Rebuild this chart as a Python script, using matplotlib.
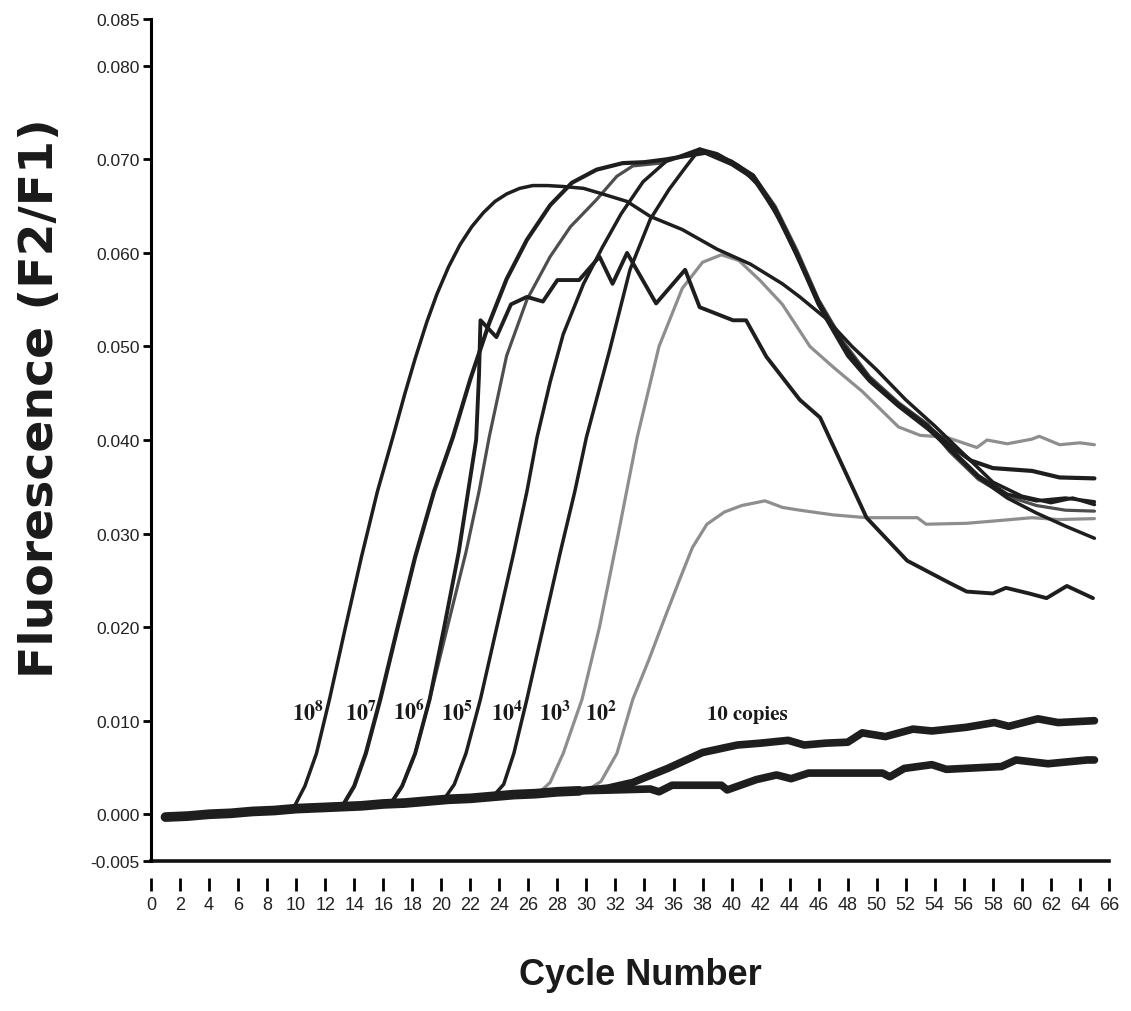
import numpy as np
import matplotlib
matplotlib.use('Agg')
import matplotlib.pyplot as plt
from matplotlib import font_manager as fm

# shared baseline before each curve takes off
base_cycle = [1, 2.5, 4, 5.5, 7, 8.5, 10, 11.5, 13, 14.5, 16, 17.5, 19, 20.5, 22, 23.5, 25, 26.5, 28, 29.5]
base_value = [-0.0003, -0.0002, 0.0000, 0.0001, 0.0003, 0.0004, 0.0006, 0.0007, 0.0008, 0.0009,
              0.0011, 0.0012, 0.0014, 0.0016, 0.0017, 0.0019, 0.0021, 0.0022, 0.0024, 0.0025]

c_1e8 = [9.8, 10.6, 11.4, 12.3, 13.4, 14.5, 15.6, 16.7, 17.5, 18.2, 19.0, 19.7, 20.5, 21.3, 22.1, 22.9,
         23.7, 24.5, 25.4, 26.3, 27.3, 28.4, 29.8, 30.9, 32.8, 34.4, 36.6, 39.0, 41.3, 43.5, 44.7, 46.5,
         48.3, 50.0, 52.0, 54.0, 56.0, 58.0, 60.0, 62.0, 63.5, 65.0]
v_1e8 = [0.0006, 0.0030, 0.0065, 0.0123, 0.0200, 0.0275, 0.0345, 0.0405, 0.0450, 0.0487, 0.0526, 0.0556,
         0.0585, 0.0609, 0.0628, 0.0643, 0.0655, 0.0663, 0.0669, 0.0672, 0.0672, 0.0671, 0.0669, 0.0664,
         0.0655, 0.0639, 0.0625, 0.0604, 0.0588, 0.0567, 0.0553, 0.0530, 0.0500, 0.0475, 0.0443, 0.0415,
         0.0385, 0.0355, 0.0340, 0.0333, 0.0338, 0.0331]

c_1e7 = [13.2, 14.0, 14.8, 15.8, 17.0, 18.2, 19.5, 20.8, 22.0, 23.3, 24.5, 25.9, 27.5, 29.0, 30.7, 32.5,
         34.0, 35.5, 37.0, 38.2, 40.0, 41.5, 43.0, 44.5, 46.0, 47.7, 49.5, 51.5, 53.5, 55.0, 56.5, 58.0,
         60.7, 62.6, 65.0]
v_1e7 = [0.0009, 0.0030, 0.0065, 0.0123, 0.0200, 0.0275, 0.0345, 0.0403, 0.0465, 0.0525, 0.0572, 0.0614,
         0.0651, 0.0675, 0.0689, 0.0696, 0.0697, 0.0700, 0.0704, 0.0707, 0.0695, 0.0680, 0.0645, 0.0598,
         0.0545, 0.0500, 0.0465, 0.0438, 0.0415, 0.0395, 0.0378, 0.0370, 0.0367, 0.0360, 0.0359]

c_1e6 = [16.5, 17.3, 18.2, 19.2, 20.5, 21.7, 22.6, 23.3, 24.5, 25.9, 27.5, 28.9, 30.7, 32.1, 33.2, 35.1,
         36.6, 38.0, 40.0, 41.5, 43.0, 44.5, 46.0, 47.7, 49.5, 51.5, 53.5, 55.0, 57.0, 59.0, 61.0, 63.0, 65.0]
v_1e6 = [0.0011, 0.0030, 0.0065, 0.0123, 0.0205, 0.0280, 0.0345, 0.0403, 0.0490, 0.0550, 0.0596, 0.0628,
         0.0657, 0.0682, 0.0693, 0.0696, 0.0703, 0.0708, 0.0697, 0.0683, 0.0650, 0.0603, 0.0550, 0.0505,
         0.0468, 0.0440, 0.0417, 0.0388, 0.0358, 0.0340, 0.0330, 0.0325, 0.0324]

# noisy replicate that takes off with 10^6
c_rep = [16.5, 17.3, 18.2, 19.2, 20.2, 21.2, 21.8, 22.4, 22.6, 22.7, 23.8, 24.8, 25.9, 27.0, 28.0, 29.5,
         30.9, 31.8, 32.8, 34.8, 36.8, 37.8, 40.1, 41.0, 42.4, 44.7, 46.1, 49.3, 52.1, 54.8, 56.2, 58.0,
         58.9, 60.5, 61.7, 63.1, 64.9]
v_rep = [0.0011, 0.0030, 0.0065, 0.0123, 0.0200, 0.0280, 0.0340, 0.0400, 0.0470, 0.0528, 0.0510, 0.0545,
         0.0553, 0.0548, 0.0571, 0.0571, 0.0596, 0.0567, 0.0600, 0.0546, 0.0582, 0.0542, 0.0528, 0.0528,
         0.0489, 0.0443, 0.0424, 0.0317, 0.0271, 0.0249, 0.0238, 0.0236, 0.0242, 0.0236, 0.0231, 0.0244,
         0.0231]

c_1e5 = [20.1, 20.9, 21.7, 22.7, 23.9, 25.0, 25.9, 26.6, 27.5, 28.4, 29.8, 31.1, 32.4, 33.9, 35.5, 37.8,
         40.0, 41.5, 43.0, 44.5, 46.0, 47.7, 49.5, 51.5, 53.5, 55.0, 57.0, 59.0, 61.0, 63.0, 65.0]
v_1e5 = [0.0014, 0.0032, 0.0065, 0.0123, 0.0205, 0.0280, 0.0345, 0.0403, 0.0462, 0.0513, 0.0567, 0.0606,
         0.0642, 0.0676, 0.0698, 0.0711, 0.0698, 0.0683, 0.0648, 0.0600, 0.0548, 0.0502, 0.0466, 0.0437,
         0.0413, 0.0390, 0.0360, 0.0338, 0.0322, 0.0308, 0.0295]

c_1e4 = [23.5, 24.3, 25.0, 25.9, 27.1, 28.2, 29.2, 30.0, 31.6, 33.0, 34.4, 35.7, 36.9, 37.8, 39.0, 40.5,
         42.0, 43.5, 45.0, 46.5, 48.0, 49.5, 51.5, 53.5, 55.0, 57.0, 59.0, 61.0, 63.0, 65.0]
v_1e4 = [0.0018, 0.0032, 0.0065, 0.0123, 0.0205, 0.0280, 0.0345, 0.0403, 0.0496, 0.0582, 0.0636, 0.0668,
         0.0693, 0.0711, 0.0706, 0.0693, 0.0670, 0.0630, 0.0580, 0.0530, 0.0490, 0.0463, 0.0436, 0.0412,
         0.0392, 0.0362, 0.0342, 0.0335, 0.0338, 0.0334]

c_1e3 = [26.6, 27.5, 28.4, 29.7, 30.9, 32.2, 33.5, 35.0, 36.6, 38.0, 39.3, 40.5, 42.0, 43.5, 45.4, 47.0,
         49.0, 51.5, 53.0, 54.8, 56.9, 57.6, 59.0, 60.7, 61.2, 62.6, 64.0, 65.0]
v_1e3 = [0.0021, 0.0034, 0.0065, 0.0123, 0.0200, 0.0300, 0.0403, 0.0500, 0.0562, 0.0590, 0.0598, 0.0592,
         0.0570, 0.0545, 0.0500, 0.0478, 0.0452, 0.0414, 0.0405, 0.0403, 0.0392, 0.0400, 0.0396, 0.0401,
         0.0404, 0.0395, 0.0397, 0.0395]

c_1e2 = [30.0, 31.0, 32.1, 33.2, 34.3, 35.4, 36.4, 37.3, 38.3, 39.5, 40.7, 42.3, 43.5, 44.7, 47.0, 49.3,
         52.8, 53.4, 56.2, 58.5, 60.7, 62.5, 65.0]
v_1e2 = [0.0025, 0.0035, 0.0065, 0.0123, 0.0165, 0.0210, 0.0250, 0.0285, 0.0310, 0.0323, 0.0330, 0.0335,
         0.0328, 0.0325, 0.0320, 0.0317, 0.0317, 0.0310, 0.0311, 0.0314, 0.0317, 0.0315, 0.0316]

c_10a = [29.5, 31.5, 33.2, 35.6, 38.0, 40.4, 42.0, 43.9, 45.0, 46.5, 48.0, 49.0, 50.6, 52.5, 53.8, 56.2,
         58.1, 59.1, 61.1, 62.5, 65.0]
v_10a = [0.0025, 0.0028, 0.0034, 0.0049, 0.0066, 0.0074, 0.0076, 0.0079, 0.0074, 0.0076, 0.0077, 0.0087,
         0.0083, 0.0091, 0.0089, 0.0093, 0.0098, 0.0094, 0.0102, 0.0098, 0.0100]

c_10b = [29.5, 32.0, 34.4, 35.0, 35.9, 39.3, 39.7, 41.7, 43.1, 44.1, 45.3, 50.4, 50.9, 51.9, 53.8, 54.8,
         58.6, 59.6, 61.8, 64.5, 65.0]
v_10b = [0.0025, 0.0026, 0.0027, 0.0024, 0.0031, 0.0031, 0.0026, 0.0037, 0.0042, 0.0038, 0.0044, 0.0044,
         0.0040, 0.0049, 0.0053, 0.0048, 0.0051, 0.0058, 0.0054, 0.0058, 0.0058]

dilution_labels = ['8', '7', '6', '5', '4', '3', '2']
label_cycle = [10.8, 14.5, 17.8, 21.1, 24.5, 27.8, 31.0]


def pick_font(*names):
    for name in names:
        try:
            fm.findfont(name, fallback_to_default=False)
            return name
        except ValueError:
            pass
    return 'DejaVu Sans'


narrow = pick_font('Liberation Sans Narrow', 'Arial Narrow', 'Liberation Sans')
plt.rcParams['mathtext.fontset'] = 'stix'


def with_base(cyc, val):
    keep = [i for i, c in enumerate(base_cycle) if c < cyc[0]]
    return ([base_cycle[i] for i in keep] + list(cyc),
            [base_value[i] for i in keep] + list(val))


fig = plt.figure(figsize=(11.31, 10.12), dpi=100)
ax = fig.add_axes([0.1335, 0.1482, 0.847, 0.832])

black = '#1e1e1e'
grey = '#8e8e8e'
curves = [
    (c_1e3, v_1e3, grey, 2.3),
    (c_1e2, v_1e2, grey, 2.3),
    (c_1e6, v_1e6, '#4e4e4e', 2.3),
    (c_1e8, v_1e8, black, 2.5),
    (c_1e5, v_1e5, black, 2.5),
    (c_1e4, v_1e4, black, 2.5),
    (c_rep, v_rep, black, 2.8),
    (c_1e7, v_1e7, black, 3.0),
]
for cyc, val, col, lw in curves:
    x, y = with_base(cyc, val)
    ax.plot(x, y, color=col, lw=lw, solid_capstyle='round', solid_joinstyle='round')

# the overlapping baselines read as one heavy band
ax.plot(base_cycle, base_value, color=black, lw=7, solid_capstyle='round')
for cyc, val in [(c_10a, v_10a), (c_10b, v_10b)]:
    x, y = with_base(cyc, val)
    ax.plot(x, y, color=black, lw=5.5, solid_capstyle='round', solid_joinstyle='round')

for sup, cx in zip(dilution_labels, label_cycle):
    ax.text(cx, 0.0102, r'$\mathbf{10^{%s}}$' % sup, ha='center', va='baseline',
            fontsize=16, color='#1a1a1a')
ax.text(41.1, 0.0102, '10 copies', ha='center', va='baseline', fontsize=15,
        fontweight='bold', family='STIXGeneral', color='#1a1a1a')

ax.set_xlim(0, 66)
ax.set_ylim(-0.005, 0.085)
yt = [-0.005, 0.0, 0.01, 0.02, 0.03, 0.04, 0.05, 0.06, 0.07, 0.08, 0.085]
ax.set_yticks(yt)
ax.set_yticklabels(['-0.005'] + ['%.3f' % t for t in yt[1:]])
ax.set_xticks(np.arange(0, 67, 2))

for s in ['top', 'right']:
    ax.spines[s].set_visible(False)
ax.spines['left'].set_linewidth(2.2)
ax.spines['bottom'].set_position(('outward', 12))
ax.spines['bottom'].set_color('none')
ax.axhline(-0.005, color='#111111', lw=2.6, clip_on=False)

ax.tick_params(axis='y', direction='out', length=6, width=2, pad=2, labelsize=12.5)
ax.tick_params(axis='x', direction='out', length=9, width=2, pad=4, labelsize=13)
for lab in ax.get_xticklabels() + ax.get_yticklabels():
    lab.set_family(narrow)
    lab.set_color('#222222')

fig.text(0.036, 0.607, 'Fluorescence (F2/F1)', rotation=90, ha='center', va='center',
         fontsize=34, fontweight='bold', family=['DejaVu Sans'], color='#1a1a1a')
fig.text(0.566, 0.036, 'Cycle Number', ha='center', va='center',
         fontsize=26, fontweight='bold', family=[narrow], color='#1a1a1a')

fig.savefig('out.png', dpi=100)
